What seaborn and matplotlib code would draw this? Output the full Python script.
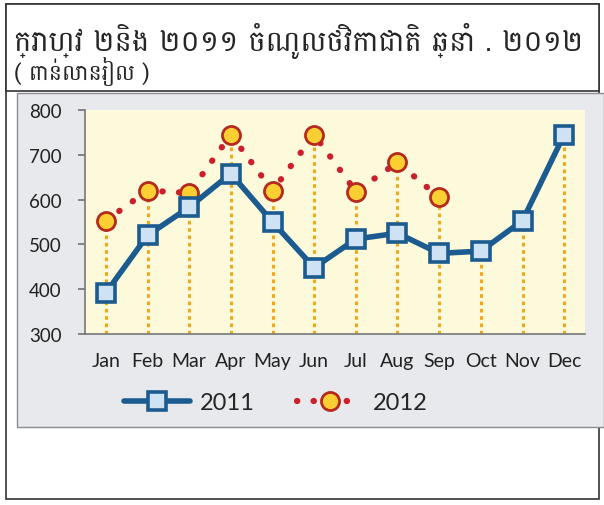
import matplotlib
matplotlib.use("Agg")
from matplotlib import pyplot as plt
from matplotlib.patches import Rectangle
from matplotlib.lines import Line2D
import pandas as pd
import seaborn as sns

months = ["Jan", "Feb", "Mar", "Apr", "May", "Jun", "Jul", "Aug", "Sep", "Oct", "Nov", "Dec"]
values_2011 = [392, 520, 583, 658, 550, 448, 512, 525, 480, 485, 553, 745]
values_2012 = [553, 620, 615, 745, 620, 745, 618, 683, 605]
series_names = ["2011", "2012"]
title = "ក្រាហ្វ ២និង ២០១១ ចំណូលថវិកាជាតិ ឆ្នាំ . ២០១២"
subtitle = "( ពាន់លានរៀល )"

sns.set_theme(style="white")
plt.rcParams["font.family"] = ["Lato", "DejaVu Sans"]
khmer_family = ["Battambang", "Noto Sans Khmer", "DejaVu Sans"]

df = pd.DataFrame({
    "month": list(range(12)) + list(range(len(values_2012))),
    "value": values_2011 + values_2012,
    "year": ["2011"] * 12 + ["2012"] * len(values_2012),
})

fig = plt.figure(figsize=(6.04, 5.06), dpi=100)
W, H = 604, 506


def box(x0, y0, x1, y1, **kw):
    fig.add_artist(Rectangle((x0 / W, 1 - y1 / H), (x1 - x0) / W, (y1 - y0) / H,
                             transform=fig.transFigure, **kw))


# outer frame, title box and grey chart panel
box(6, 5, 599, 500, facecolor="white", edgecolor="#333333", lw=1.2, zorder=0)
box(6, 5, 599, 92, facecolor="white", edgecolor="#333333", lw=1.2, zorder=0)
box(17, 94, 604, 428, facecolor="#e7e9ec", edgecolor="#8a8d92", lw=1.0, zorder=0)

fig.text(14 / W, 1 - 41 / H, title, family=khmer_family, fontsize=21, va="center", ha="left")
fig.text(14 / W, 1 - 72 / H, subtitle, family=khmer_family, fontsize=16, va="center", ha="left")

ax = fig.add_axes([85 / W, 1 - 335 / H, 500 / W, 224 / H])
ax.set_facecolor("#fdfadb")
ax.set_xlim(-0.5, 11.5)
ax.set_ylim(300, 800)

# orange drop lines from the higher point of each month
for i in range(12):
    top = max(values_2011[i], values_2012[i] if i < len(values_2012) else 0)
    ax.vlines(i, 300, top, colors="#f0a81e", linestyles=(0, (1.2, 1.2)), lw=2.2, zorder=1)

sns.lineplot(data=df[df.year == "2012"], x="month", y="value", ax=ax, color="#cc1f2c",
             lw=4.5, linestyle=(0, (0.05, 2.6)), dash_capstyle="round", zorder=2,
             marker="o", markersize=13, markerfacecolor="#fbcf32", markeredgecolor="#b52a1e",
             markeredgewidth=2, legend=False)
sns.lineplot(data=df[df.year == "2011"], x="month", y="value", ax=ax, color="#1b5b8f",
             lw=4, zorder=3, marker="s", markersize=13, markerfacecolor="#cfe2f3",
             markeredgecolor="#1b5b8f", markeredgewidth=2.6, legend=False)

ax.set_xticks(range(12))
ax.set_xticklabels(months)
ax.set_yticks(range(300, 801, 100))
ax.set_xlabel("")
ax.set_ylabel("")
ax.tick_params(axis="x", labelsize=14, colors="#222222", length=0, pad=13)
ax.tick_params(axis="y", labelsize=13.5, colors="#222222", pad=12, length=5,
               color="#777777", direction="out", left=True)
for side in ["top", "right"]:
    ax.spines[side].set_visible(False)
ax.spines["left"].set_color("#777777")
ax.spines["bottom"].set_color("#777777")
ax.spines["left"].set_linewidth(1.2)
ax.spines["bottom"].set_linewidth(1.2)

handles = [
    Line2D([], [], color="#1b5b8f", lw=4, marker="s", markersize=13, markerfacecolor="#cfe2f3",
           markeredgecolor="#1b5b8f", markeredgewidth=2.6),
    Line2D([], [], color="#cc1f2c", lw=4.5, linestyle=(0, (0.05, 2.6)), dash_capstyle="round",
           marker="o", markersize=13, markerfacecolor="#fbcf32", markeredgecolor="#b52a1e",
           markeredgewidth=2),
]
fig.legend(handles, series_names, loc="center", bbox_to_anchor=(276 / W, 1 - 404 / H),
           ncol=2, frameon=False, fontsize=17, handlelength=2.8, columnspacing=1.8,
           handletextpad=0.4)

fig.savefig("out.png", dpi=100)
